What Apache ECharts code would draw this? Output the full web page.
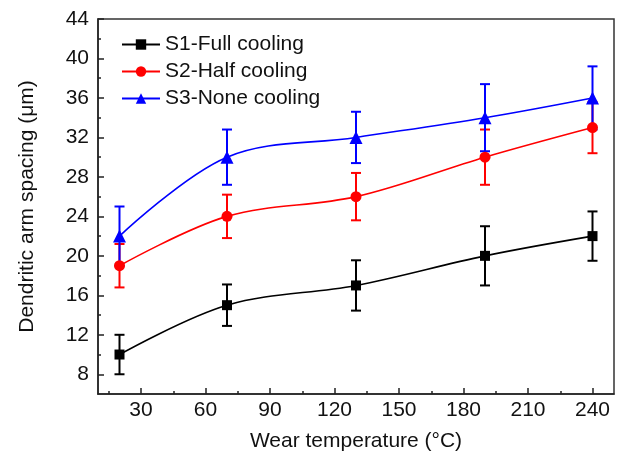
<!DOCTYPE html>
<html>
<head>
<meta charset="utf-8">
<script src="https://cdn.jsdelivr.net/npm/echarts@6/dist/echarts.min.js"></script>
<style>html,body{margin:0;padding:0;background:#fff}#c{width:621px;height:459px}</style>
</head>
<body>
<div id="c"></div>
<script>
// Data
var temps = [20, 70, 130, 190, 240];
var s1 = [10, 15, 17, 20, 22];
var s1Err = [2, 2.1, 2.55, 3, 2.5];
var s2 = [19, 24, 26, 30, 33];
var s2Err = [2.2, 2.2, 2.4, 2.8, 2.6];
var s3 = [22, 30, 32, 34, 36];
var s3Err = [3, 2.8, 2.6, 3.4, 3.2];
var seriesNames = ['S1-Full cooling', 'S2-Half cooling', 'S3-None cooling'];
var xMajor = [30, 60, 90, 120, 150, 180, 210, 240];
var xMinor = [15, 45, 75, 105, 135, 165, 195, 225];
var yMajor = [8, 12, 16, 20, 24, 28, 32, 36, 40, 44];
var yMinor = [10, 14, 18, 22, 26, 30, 34, 38, 42];

var colors = ['#000000', '#ff0000', '#0000ff'];
var symbols = ['rect', 'circle', 'triangle'];
var symbolSizes = [10, 11, 13];
var vals = [s1, s2, s3];
var errs = [s1Err, s2Err, s3Err];

var font = 'Liberation Sans, Arial, sans-serif';
var txt = '#111111';

function pairs(v) { return temps.map(function (t, i) { return [t, v[i]]; }); }
function errData(v, e) { return temps.map(function (t, i) { return [t, v[i] - e[i], v[i] + e[i]]; }); }

function errSeries(idx) {
  var col = colors[idx];
  return {
    type: 'custom',
    name: 'err' + idx,
    xAxisIndex: 0, yAxisIndex: 0,
    z: 2 + idx,
    data: errData(vals[idx], errs[idx]),
    renderItem: function (params, api) {
      var x = api.value(0);
      var lo = api.coord([x, api.value(1)]);
      var hi = api.coord([x, api.value(2)]);
      var w = 5;
      var st = { stroke: col, lineWidth: 2 };
      return {
        type: 'group',
        children: [
          { type: 'line', shape: { x1: lo[0], y1: lo[1], x2: hi[0], y2: hi[1] }, style: st },
          { type: 'line', shape: { x1: lo[0] - w, y1: lo[1], x2: lo[0] + w, y2: lo[1] }, style: st },
          { type: 'line', shape: { x1: hi[0] - w, y1: hi[1], x2: hi[0] + w, y2: hi[1] }, style: st }
        ]
      };
    }
  };
}

var series = [];
for (var i = 0; i < 3; i++) {
  series.push({
    type: 'line',
    name: seriesNames[i],
    data: pairs(vals[i]),
    smooth: 0.35,
    symbol: symbols[i],
    symbolSize: symbolSizes[i],
    color: colors[i],
    z: 3 + i,
    lineStyle: { color: colors[i], width: 1.6 },
    itemStyle: { color: colors[i] }
  });
  series.push(errSeries(i));
}

var chart = echarts.init(document.getElementById('c'), null, { renderer: 'canvas' });
chart.setOption({
  animation: false,
  backgroundColor: '#ffffff',
  textStyle: { fontFamily: font },
  grid: {
    left: 98, right: 7, top: 19, bottom: 65,
    show: true, borderColor: '#333', borderWidth: 1.5, backgroundColor: 'transparent'
  },
  legend: {
    data: seriesNames,
    orient: 'vertical',
    left: 116, top: 29,
    itemWidth: 38, itemHeight: 13, itemGap: 6,
    textStyle: { fontFamily: font, fontSize: 21, color: txt }
  },
  xAxis: [{
    type: 'value', min: 10, max: 250,
    name: 'Wear temperature (°C)', nameLocation: 'middle', nameGap: 37,
    nameTextStyle: { fontFamily: font, fontSize: 21, color: txt },
    axisLine: { show: true, lineStyle: { color: '#222', width: 1.5 } },
    axisTick: { show: true, inside: true, length: 6, customValues: xMajor, lineStyle: { color: '#222', width: 1.5 } },
    axisLabel: { customValues: xMajor, margin: 6, fontFamily: font, fontSize: 21, color: txt },
    splitLine: { show: false }
  }, {
    type: 'value', min: 10, max: 250, position: 'bottom',
    axisLine: { show: false },
    axisTick: { show: true, inside: true, length: 3, customValues: xMinor, lineStyle: { color: '#222', width: 1.5 } },
    axisLabel: { show: false },
    splitLine: { show: false }
  }],
  yAxis: [{
    type: 'value', min: 6, max: 44,
    name: 'Dendritic arm spacing (μm)', nameLocation: 'middle', nameGap: 60,
    nameTextStyle: { fontFamily: font, fontSize: 21, color: txt },
    axisLine: { show: true, lineStyle: { color: '#222', width: 1.5 } },
    axisTick: { show: true, inside: true, length: 6, customValues: yMajor, lineStyle: { color: '#222', width: 1.5 } },
    axisLabel: { customValues: yMajor, margin: 9, fontFamily: font, fontSize: 21, color: txt },
    splitLine: { show: false }
  }, {
    type: 'value', min: 6, max: 44, position: 'left',
    axisLine: { show: false },
    axisTick: { show: true, inside: true, length: 3, customValues: yMinor, lineStyle: { color: '#222', width: 1.5 } },
    axisLabel: { show: false },
    splitLine: { show: false }
  }],
  series: series
});
</script>
</body>
</html>
